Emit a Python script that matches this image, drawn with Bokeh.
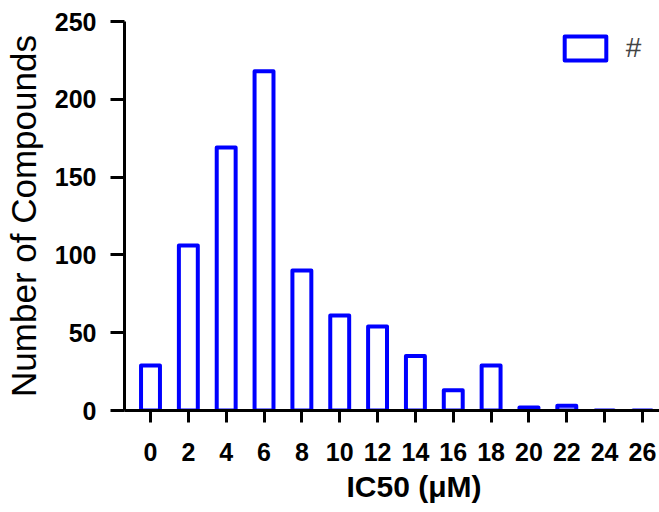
from bokeh.plotting import figure
from bokeh.models import FixedTicker, Legend, LegendItem, Title
from bokeh.embed import file_html
from bokeh.resources import INLINE

# Data
ic50_bins = [0, 2, 4, 6, 8, 10, 12, 14, 16, 18, 20, 22, 24, 26]
counts = [29, 106, 169, 218, 90, 61, 54, 35, 13, 29, 2, 3, 0, 0]
x_ticks = list(range(0, 27, 2))
y_ticks = [0, 50, 100, 150, 200, 250]
series_name = "#"
x_title = "IC50 (\u03bcM)"
y_title = "Number of Compounds"

FONT = "Liberation Sans"

p = figure(width=659, height=512, output_backend="svg", toolbar_location=None,
           x_range=(-1.374, 26.9), y_range=(0, 250),
           min_border_left=124, min_border_top=21, min_border_bottom=102,
           min_border_right=0)

r = p.vbar(x=ic50_bins, top=counts, bottom=0, width=1.0,
           fill_color="white", line_color="#0000FF", line_width=4,
           line_join="round")

p.outline_line_color = None
p.xgrid.visible = False
p.ygrid.visible = False

for ax in (p.xaxis[0], p.yaxis[0]):
    ax.axis_line_width = 3
    ax.axis_line_color = "black"
    ax.major_tick_line_width = 3
    ax.major_tick_line_color = "black"
    ax.major_tick_in = 0
    ax.minor_tick_line_color = None
    ax.major_label_text_font = FONT
    ax.major_label_text_font_style = "bold"
    ax.major_label_text_font_size = "25px"
    ax.major_label_text_color = "black"

p.xaxis[0].ticker = FixedTicker(ticks=x_ticks)
p.yaxis[0].ticker = FixedTicker(ticks=y_ticks)
p.xaxis[0].major_tick_out = 12
p.yaxis[0].major_tick_out = 14
p.xaxis[0].major_label_standoff = 20
p.yaxis[0].major_label_standoff = 14

p.yaxis[0].axis_label = y_title
p.yaxis[0].axis_label_text_font = FONT
p.yaxis[0].axis_label_text_font_style = "normal"
p.yaxis[0].axis_label_text_font_size = "35px"
p.yaxis[0].axis_label_text_color = "black"
p.yaxis[0].axis_label_standoff = 9

xt = Title(text=x_title, text_font=FONT, text_font_style="bold",
           text_font_size="30px", text_color="black", align="left",
           offset=222, standoff=8)
p.add_layout(xt, "below")

legend = Legend(items=[LegendItem(label=series_name, renderers=[r])],
                location=(434.75, 346), padding=0, margin=0,
                glyph_width=52, glyph_height=30, label_standoff=15,
                label_text_font=FONT, label_text_font_size="28px",
                border_line_alpha=0, background_fill_alpha=0)
p.add_layout(legend)

open("out.html", "w").write(file_html(p, INLINE))
